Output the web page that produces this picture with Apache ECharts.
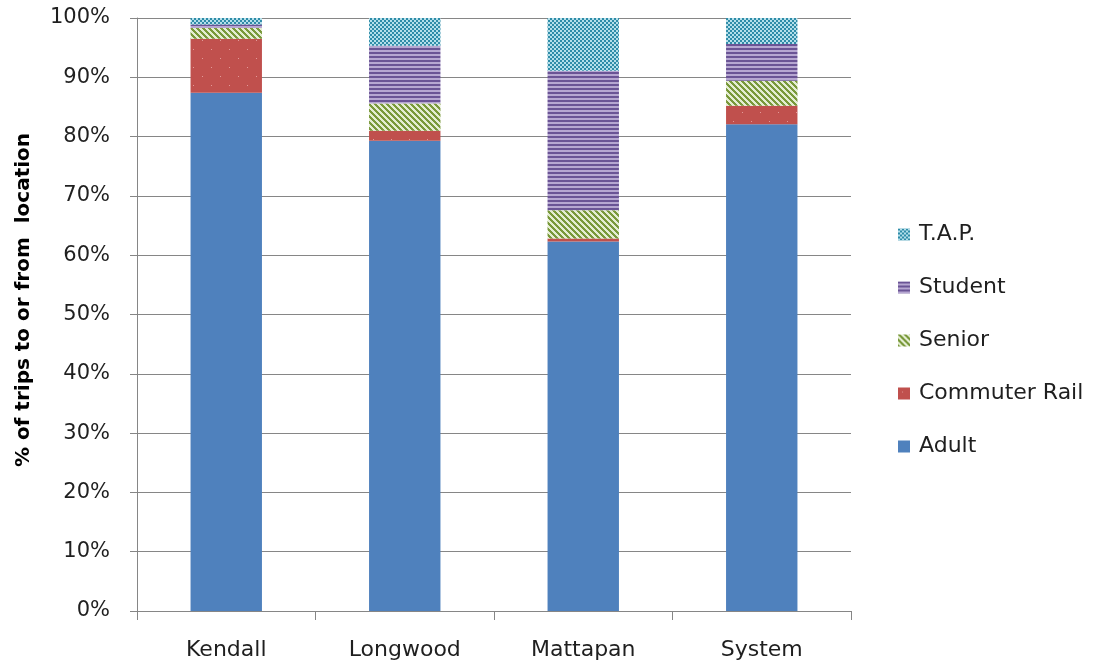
<!DOCTYPE html>
<html>
<head>
<meta charset="utf-8">
<script src="https://cdn.jsdelivr.net/npm/echarts@6/dist/echarts.min.js"></script>
<style>
  html, body { margin: 0; padding: 0; background: #fff; }
  #chart { width: 1106px; height: 667px; }
</style>
</head>
<body>
<div id="chart"></div>
<script>
// Share of trips by fare type, per location (percent of all trips)
const categories   = ['Kendall', 'Longwood', 'Mattapan', 'System'];
const adult        = [87.4, 79.3, 62.3, 82.1];
const commuterRail = [9.1, 1.7, 0.5, 3.1];
const senior       = [1.8, 4.6, 4.8, 4.2];
const student      = [0.6, 9.7, 23.5, 6.2];
const tap          = [1.1, 4.7, 8.9, 4.4];
const yTicks       = [0, 10, 20, 30, 40, 50, 60, 70, 80, 90, 100];

// Small tiled canvases used as pattern fills
function pattern(w, h, draw) {
  const c = document.createElement('canvas');
  c.width = w; c.height = h;
  const ctx = c.getContext('2d');
  draw(ctx, w, h);
  return { image: c, repeat: 'repeat' };
}

const tapFill = pattern(4, 4, (ctx) => {
  ctx.fillStyle = '#B4DFEA'; ctx.fillRect(0, 0, 4, 4);
  ctx.fillStyle = '#2F8CA8';
  ctx.fillRect(0, 0, 2, 2); ctx.fillRect(2, 2, 2, 2);
});

const studentFill = pattern(4, 4, (ctx) => {
  ctx.fillStyle = '#B6A7D1'; ctx.fillRect(0, 0, 4, 4);
  ctx.fillStyle = '#6A5495'; ctx.fillRect(0, 0, 4, 2);
});

const seniorFill = pattern(6, 6, (ctx) => {
  ctx.fillStyle = '#E4EDD2'; ctx.fillRect(0, 0, 6, 6);
  ctx.fillStyle = '#79993A';
  for (let y = 0; y < 6; y++) {
    for (let x = 0; x < 6; x++) {
      if (((x - y) % 6 + 6) % 6 < 3) ctx.fillRect(x, y, 1, 1);
    }
  }
});

const railFill = pattern(18, 18, (ctx) => {
  ctx.fillStyle = '#C0504D'; ctx.fillRect(0, 0, 18, 18);
  ctx.fillStyle = '#E39A98';
  ctx.fillRect(4, 4, 1, 1); ctx.fillRect(13, 13, 1, 1);
});

const adultFill = '#4F81BD';

const font = '"DejaVu Sans", sans-serif';
const textColor = '#1f1f1f';

function stack(name, data, color) {
  return {
    name: name,
    type: 'bar',
    stack: 'trips',
    data: data,
    barWidth: '40%',
    itemStyle: { color: color },
    emphasis: { disabled: true }
  };
}

const chart = echarts.init(document.getElementById('chart'), null, { renderer: 'canvas' });

chart.setOption({
  animation: false,
  backgroundColor: '#ffffff',
  grid: { left: 137, right: 255, top: 18, bottom: 56 },
  legend: {
    orient: 'vertical',
    left: 893,
    top: 218,
    itemWidth: 12,
    itemHeight: 12,
    itemGap: 30,
    itemStyle: { borderWidth: 0 },
    icon: 'rect',
    data: ['T.A.P.', 'Student', 'Senior', 'Commuter Rail', 'Adult'],
    textStyle: { fontFamily: font, fontSize: 22, color: textColor, lineHeight: 23, padding: [0, 0, 0, 4] }
  },
  graphic: [{
    type: 'text',
    x: 24,
    y: 300,
    rotation: Math.PI / 2,
    style: {
      text: '% of trips to or from  location',
      font: 'bold 20px "DejaVu Sans", sans-serif',
      fill: '#000000',
      align: 'center',
      verticalAlign: 'middle'
    }
  }],
  xAxis: {
    type: 'category',
    data: categories,
    axisLine: { show: true, lineStyle: { color: '#868686', width: 1 } },
    axisTick: { show: true, length: 9, lineStyle: { color: '#868686' } },
    axisLabel: { fontFamily: font, fontSize: 22, color: textColor, margin: 28 }
  },
  yAxis: {
    type: 'value',
    min: yTicks[0],
    max: yTicks[yTicks.length - 1],
    interval: yTicks[1] - yTicks[0],
    axisLine: { show: true, lineStyle: { color: '#868686', width: 1 } },
    axisTick: { show: true, length: 7, lineStyle: { color: '#868686' } },
    splitLine: { show: true, lineStyle: { color: '#868686', width: 1 } },
    axisLabel: { fontFamily: font, fontSize: 21, color: textColor, margin: 27, formatter: '{value}%' }
  },
  series: [
    stack('Adult', adult, adultFill),
    stack('Commuter Rail', commuterRail, railFill),
    stack('Senior', senior, seniorFill),
    stack('Student', student, studentFill),
    stack('T.A.P.', tap, tapFill)
  ]
});
</script>
</body>
</html>
